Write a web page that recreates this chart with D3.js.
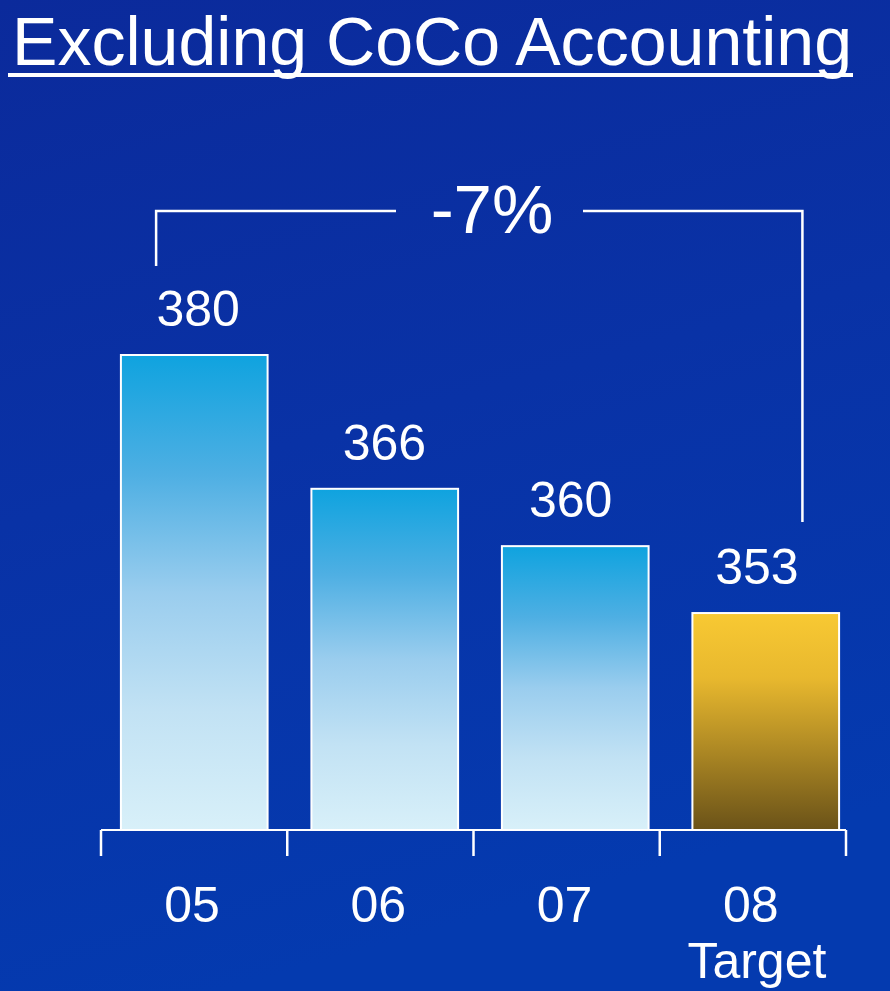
<!DOCTYPE html>
<html>
<head>
<meta charset="utf-8">
<script src="https://cdn.jsdelivr.net/npm/d3@7"></script>
<style>
  html, body { margin: 0; padding: 0; background: #0833a6; }
  svg { display: block; font-family: "Liberation Sans", Arial, sans-serif; }
</style>
</head>
<body>
<svg id="chart" width="890" height="991"></svg>
<script>
// Cost base excluding CoCo accounting, by year
const categories = ["05", "06", "07", "08"];
const subLabels  = ["", "", "", "Target"];
const values     = [380, 366, 360, 353];
const isTarget   = [false, false, false, true];
const changeLabel = "-7%";
const titleText = "Excluding CoCo Accounting";

const W = 890, H = 991;
const svg = d3.select("#chart");
const defs = svg.append("defs");

// Background
const bg = defs.append("linearGradient").attr("id", "bg")
  .attr("x1", 0).attr("y1", 0).attr("x2", 0.25).attr("y2", 1);
bg.append("stop").attr("offset", 0).attr("stop-color", "#0b2a9b");
bg.append("stop").attr("offset", 0.5).attr("stop-color", "#0932a6");
bg.append("stop").attr("offset", 1).attr("stop-color", "#043aaf");
svg.append("rect").attr("width", W).attr("height", H).attr("fill", "url(#bg)");

// Bar fills
const blue = defs.append("linearGradient").attr("id", "barBlue")
  .attr("x1", 0).attr("y1", 0).attr("x2", 0).attr("y2", 1);
[[0, "#0fa3df"], [0.25, "#4eafe3"], [0.5, "#9acdee"], [0.75, "#c2e2f4"], [1, "#d8f0f9"]]
  .forEach(([o, c]) => blue.append("stop").attr("offset", o).attr("stop-color", c));

const gold = defs.append("linearGradient").attr("id", "barGold")
  .attr("x1", 0).attr("y1", 0).attr("x2", 0).attr("y2", 1);
[[0, "#f8c933"], [0.3, "#e8b82e"], [0.6, "#b38d25"], [1, "#6a5218"]]
  .forEach(([o, c]) => gold.append("stop").attr("offset", o).attr("stop-color", c));

// Title with underline
svg.append("text")
  .attr("x", 12).attr("y", 65)
  .attr("fill", "#fff")
  .attr("font-size", 68)
  .attr("textLength", 840)
  .attr("lengthAdjust", "spacingAndGlyphs")
  .text(titleText);
svg.append("rect").attr("x", 8).attr("y", 73).attr("width", 845).attr("height", 4).attr("fill", "#fff");

// Scales
const baseY = 830;
const y = d3.scaleLinear().domain([330.3, 380]).range([baseY, 355]);

const xBar = d3.scaleBand().domain(categories)
  .range([99, 861]).paddingInner(0.23).paddingOuter(0.115);

const xAxis = d3.scaleBand().domain(categories).range([101, 846]);

// Axis: baseline with tick marks between categories
const axisG = svg.append("g");
axisG.append("line")
  .attr("x1", xAxis.range()[0]).attr("x2", xAxis.range()[1])
  .attr("y1", baseY).attr("y2", baseY)
  .attr("stroke", "#fff").attr("stroke-width", 2);
const tickXs = categories.map(c => xAxis(c)).concat([xAxis.range()[1]]);
axisG.selectAll("line.tick").data(tickXs).enter().append("line")
  .attr("class", "tick")
  .attr("x1", d => d).attr("x2", d => d)
  .attr("y1", baseY).attr("y2", 856)
  .attr("stroke", "#fff").attr("stroke-width", 2.5);

// Bars
svg.selectAll("rect.bar").data(values).enter().append("rect")
  .attr("class", "bar")
  .attr("x", (d, i) => xBar(categories[i]))
  .attr("y", d => y(d))
  .attr("width", xBar.bandwidth())
  .attr("height", d => baseY - y(d))
  .attr("fill", (d, i) => isTarget[i] ? "url(#barGold)" : "url(#barBlue)")
  .attr("stroke", "#ffffff")
  .attr("stroke-width", 2);

// Value labels
svg.selectAll("text.val").data(values).enter().append("text")
  .attr("class", "val")
  .attr("x", (d, i) => xAxis(categories[i]) + xAxis.bandwidth() / 2 + 4)
  .attr("y", d => y(d) - 29)
  .attr("text-anchor", "middle")
  .attr("fill", "#fff")
  .attr("font-size", 50)
  .text(d => d);

// Category labels
svg.selectAll("text.cat").data(categories).enter().append("text")
  .attr("class", "cat")
  .attr("x", d => xAxis(d) + xAxis.bandwidth() / 2 - 2)
  .attr("y", 922)
  .attr("text-anchor", "middle")
  .attr("fill", "#fff")
  .attr("font-size", 50)
  .text(d => d);
svg.selectAll("text.sub").data(subLabels.filter(s => s)).enter().append("text")
  .attr("class", "sub")
  .attr("x", (d) => xAxis(categories[subLabels.indexOf(d)]) + xAxis.bandwidth() / 2 + 4)
  .attr("y", 978)
  .attr("text-anchor", "middle")
  .attr("fill", "#fff")
  .attr("font-size", 50)
  .text(d => d);

// Change bracket from first year to target
const first = categories[0], last = categories[categories.length - 1];
const bx1 = xBar(first) + xBar.bandwidth() * 0.24;
const bx2 = xBar(last) + xBar.bandwidth() * 0.75;
const bTop = 211;
const labelX = 492, gapHalf = 96;
const bracket = svg.append("g").attr("stroke", "#fff").attr("stroke-width", 2.5).attr("fill", "none");
bracket.append("path")
  .attr("d", `M${bx1},${y(values[0]) - 89} V${bTop} H${labelX - gapHalf}`);
bracket.append("path")
  .attr("d", `M${labelX + gapHalf - 5},${bTop} H${bx2} V${y(values[3]) - 91}`);
svg.append("text")
  .attr("x", labelX).attr("y", 233)
  .attr("text-anchor", "middle")
  .attr("fill", "#fff")
  .attr("font-size", 69)
  .text(changeLabel);
</script>
</body>
</html>
